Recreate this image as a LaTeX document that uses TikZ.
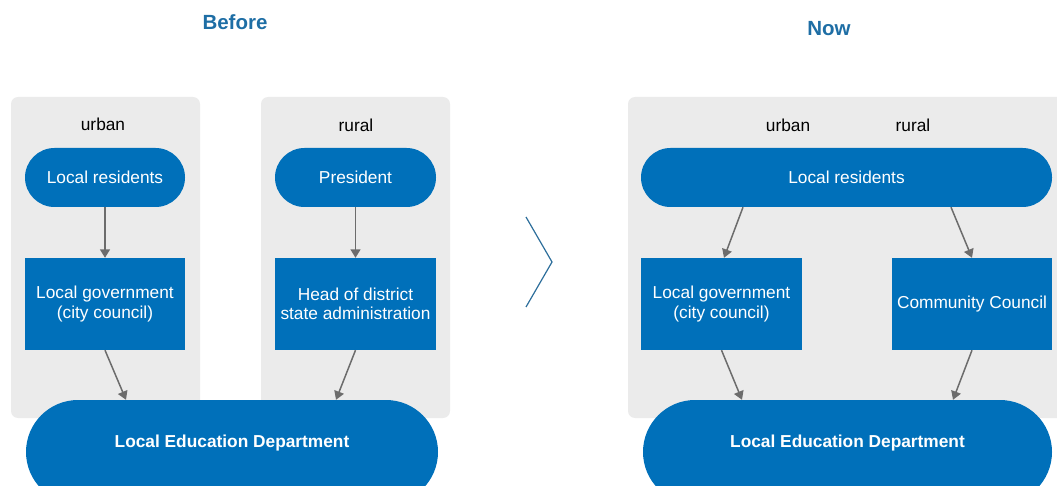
\documentclass[tikz,border=0pt]{standalone}
\usepackage{fontspec}
\setmainfont{Liberation Sans}
\usetikzlibrary{arrows.meta}
\definecolor{boxblue}{RGB}{0,112,186}
\definecolor{panelgray}{RGB}{235,235,235}
\definecolor{arrowgray}{RGB}{108,108,108}
\definecolor{titleblue}{RGB}{30,110,165}
\definecolor{chevblue}{RGB}{45,110,155}
\begin{document}
\begin{tikzpicture}[x=1pt,y=-1pt,
  panel/.style={fill=panelgray, rounded corners=7pt},
  pill/.style={fill=boxblue, text=white, rounded corners=29.5pt, minimum height=59pt,
    inner sep=0pt, font=\fontsize{17.3}{20}\selectfont},
  bluebox/.style={fill=boxblue, text=white, minimum height=92pt, inner sep=0pt,
    align=center, font=\fontsize{17.3}{19.5}\selectfont},
  bigpill/.style={fill=boxblue, rounded corners=52pt, minimum height=104pt, inner sep=0pt},
  bigtext/.style={text=white, font=\bfseries\fontsize{17.3}{20}\selectfont},
  zone/.style={font=\fontsize{17.3}{20}\selectfont},
  title/.style={text=titleblue, font=\bfseries\fontsize{20.5}{24}\selectfont},
  flow/.style={draw=arrowgray, line width=1.5pt, -{Triangle[length=8.5pt,width=10pt]}}
]
\useasboundingbox (0,0) rectangle (1057,486);
\clip (0,0) rectangle (1057,486);

% titles
\node[title] (tbefore) at (235,22) {Before};
\node[title] (tnow) at (829,29) {Now};

% grey background panels
\fill[panel] (11,97) rectangle (200,418);
\fill[panel] (261,97) rectangle (450,418);
\fill[panel] (628,97) rectangle (1075,418);

% ---------- before ----------
\node[zone] (urb1) at (103,124) {urban};
\node[zone] (rur1) at (356,125) {rural};
\node[pill, minimum width=160pt] (res1) at (105,177.5) {Local residents};
\node[pill, minimum width=161pt] (pres) at (355.5,177.5) {President};
\node[bluebox, minimum width=160pt] (gov1) at (105,304) {Local government\\(city council)};
\node[bluebox, minimum width=161pt] (head) at (355.5,304) {Head of district\\state administration};
\node[bigpill, minimum width=412pt] (led1) at (232,452) {};
\node[bigtext] (led1t) at ([yshift=9pt]led1.center) {Local Education Department};

\draw[flow] (res1.south) -- (gov1.north);
\draw[flow] (pres.south) -- (head.north);
\draw[flow] (gov1.south) -- ([xshift=-106pt]led1.north);
\draw[flow] (head.south) -- ([xshift=104pt]led1.north);

% chevron between the two schemes
\draw[chevblue, line width=1.2pt] (526,217) -- (552,262) -- (526,307);

% ---------- now ----------
\node[zone] (urb2) at (788,125) {urban};
\node[zone] (rur2) at (913,125) {rural};
\node[pill, minimum width=411pt] (res2) at (846.5,177.5) {Local residents};
\node[bluebox, minimum width=161pt] (gov2) at (721.5,304) {Local government\\(city council)};
\node[bluebox, minimum width=160pt] (comm) at (972,304) {Community Council};
\node[bigpill, minimum width=409pt] (led2) at (847.5,452) {};
\node[bigtext] (led2t) at ([yshift=9pt]led2.center) {Local Education Department};

\draw[flow] ([xshift=-103.5pt]res2.south) -- ([xshift=2.5pt]gov2.north);
\draw[flow] ([xshift=104.5pt]res2.south) -- (comm.north);
\draw[flow] (gov2.south) -- ([xshift=-105.5pt]led2.north);
\draw[flow] (comm.south) -- ([xshift=105.5pt]led2.north);
\end{tikzpicture}
\end{document}
